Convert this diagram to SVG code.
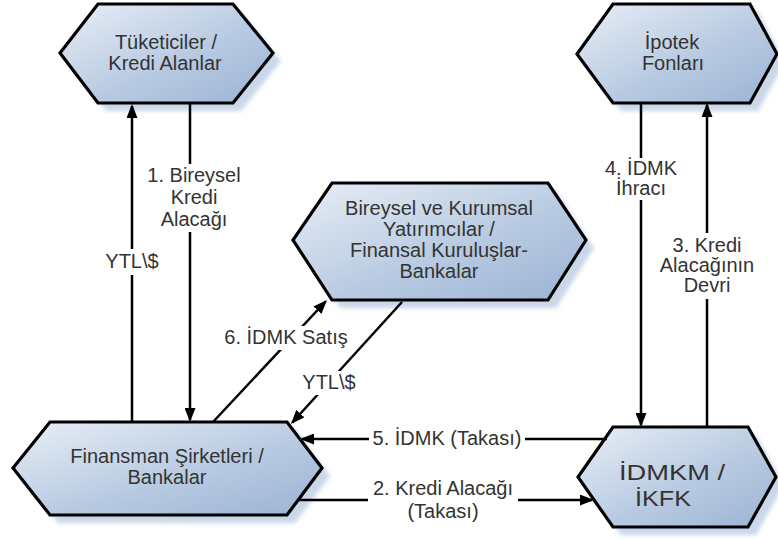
<svg xmlns="http://www.w3.org/2000/svg" width="778" height="539" viewBox="0 0 778 539">
  <defs>
    <linearGradient id="hexFill" x1="0" y1="0" x2="1" y2="1">
      <stop offset="0" stop-color="#e8eef6"/>
      <stop offset="0.55" stop-color="#b9cbe2"/>
      <stop offset="1" stop-color="#9ab3d4"/>
    </linearGradient>
    <filter id="blur" x="-10%" y="-10%" width="130%" height="130%">
      <feGaussianBlur stdDeviation="2"/>
    </filter>
    <marker id="arrow" viewBox="0 0 14 11" markerWidth="14" markerHeight="11" refX="12" refY="5.5" orient="auto" markerUnits="userSpaceOnUse">
      <path d="M0,0 L14,5.5 L0,11 z" fill="#000"/>
    </marker>
  </defs>
  <style>
    .shadow { fill: #c9d7e9; filter: url(#blur); }
    .hex { fill: url(#hexFill); stroke: #000; stroke-width: 3.2; stroke-linejoin: miter; }
    .lbl { font-family: "Liberation Sans", Arial, sans-serif; font-size: 20px; fill: #333; text-anchor: middle; }
    .big { font-size: 22px; }
    .conn { fill: none; stroke: #000; stroke-width: 2.5; }
    .bg { fill: #fff; }
  </style>

  <rect width="778" height="539" fill="#fff"/>

  <g id="node-tuketiciler">
    <polygon class="shadow" points="106,12 241,12 281,61 241,111 106,111 68,61"/>
    <polygon class="hex" points="98,4 233,4 273,53 233,103 98,103 60,53"/>
    <text class="lbl" x="166" y="49">Tüketiciler /</text>
    <text class="lbl" x="165" y="70">Kredi Alanlar</text>
  </g>

  <g id="node-ipotek">
    <polygon class="shadow" points="621,12 758,12 785,62 758,111 621,111 585,62"/>
    <polygon class="hex" points="613,4 750,4 777,54 750,103 613,103 577,54"/>
    <text class="lbl" x="672" y="49">İpotek</text>
    <text class="lbl" x="673" y="70">Fonları</text>
  </g>

  <g id="node-bireysel">
    <polygon class="shadow" points="340,191 556,191 594,248 556,308 340,308 301,248"/>
    <polygon class="hex" points="332,183 548,183 586,240 548,300 332,300 293,240"/>
    <text class="lbl" x="439" y="215">Bireysel ve Kurumsal</text>
    <text class="lbl" x="439" y="236">Yatırımcılar /</text>
    <text class="lbl" x="439" y="257">Finansal Kuruluşlar-</text>
    <text class="lbl" x="439" y="278">Bankalar</text>
  </g>

  <g id="node-finansman">
    <polygon class="shadow" points="58,430 295,430 330,476 295,523 58,523 21,476"/>
    <polygon class="hex" points="50,422 287,422 322,468 287,515 50,515 13,468"/>
    <text class="lbl" x="167" y="463">Finansman Şirketleri /</text>
    <text class="lbl" x="167" y="484">Bankalar</text>
  </g>

  <g id="node-idmkm">
    <polygon class="shadow" points="621,435 756,435 784,485 756,535 621,535 586,485"/>
    <polygon class="hex" points="613,427 748,427 776,477 748,527 613,527 578,477"/>
    <text class="lbl big" x="672" y="480" textLength="106" lengthAdjust="spacingAndGlyphs">İDMKM /</text>
    <text class="lbl big" x="663" y="506" textLength="56" lengthAdjust="spacingAndGlyphs">İKFK</text>
  </g>

  <g id="connectors">
    <!-- YTL\$ : Finansman -> Tüketiciler -->
    <path class="conn" d="M132,422 L132,106" marker-end="url(#arrow)"/>
    <!-- 1. Bireysel Kredi Alacağı : Tüketiciler -> Finansman -->
    <path class="conn" d="M190,103 L190,420" marker-end="url(#arrow)"/>
    <!-- 6. İDMK Satış : Finansman -> Bireysel -->
    <path class="conn" d="M213,422 L325.6,301.5" marker-end="url(#arrow)"/>
    <!-- YTL\$ : Bireysel -> Finansman -->
    <path class="conn" d="M402,302 L292.3,422.5" marker-end="url(#arrow)"/>
    <!-- 5. İDMK (Takası) : İDMKM -> Finansman -->
    <path class="conn" d="M607,439 L302,439" marker-end="url(#arrow)"/>
    <!-- 2. Kredi Alacağı (Takası) : Finansman -> İDMKM -->
    <path class="conn" d="M298,500 L592,500" marker-end="url(#arrow)"/>
    <!-- 4. İDMK İhracı : İpotek -> İDMKM -->
    <path class="conn" d="M641,103 L641,425" marker-end="url(#arrow)"/>
    <!-- 3. Kredi Alacağının Devri : İDMKM -> İpotek -->
    <path class="conn" d="M707,427 L707,105" marker-end="url(#arrow)"/>

    <g id="connector-labels">
      <rect class="bg" x="103" y="249" width="58" height="26"/>
      <text class="lbl" x="132" y="268">YTL\$</text>

      <rect class="bg" x="145" y="164" width="99" height="68"/>
      <text class="lbl" x="194" y="182">1. Bireysel</text>
      <text class="lbl" x="194" y="204">Kredi</text>
      <text class="lbl" x="194" y="226">Alacağı</text>

      <rect class="bg" x="222" y="326" width="128" height="24"/>
      <text class="lbl" x="286" y="344">6. İDMK Satış</text>

      <rect class="bg" x="301" y="371" width="57" height="24"/>
      <text class="lbl" x="329" y="389">YTL\$</text>

      <rect class="bg" x="369" y="427" width="156" height="24"/>
      <text class="lbl" x="447" y="445">5. İDMK (Takası)</text>

      <rect class="bg" x="368" y="478" width="150" height="45"/>
      <text class="lbl" x="443" y="495">2. Kredi Alacağı</text>
      <text class="lbl" x="443" y="518">(Takası)</text>

      <rect class="bg" x="602" y="158" width="78" height="42"/>
      <text class="lbl" x="641" y="175">4. İDMK</text>
      <text class="lbl" x="641" y="195">İhracı</text>

      <rect class="bg" x="658" y="233" width="98" height="66"/>
      <text class="lbl" x="707" y="252">3. Kredi</text>
      <text class="lbl" x="707" y="272">Alacağının</text>
      <text class="lbl" x="707" y="292">Devri</text>
    </g>
  </g>
</svg>
